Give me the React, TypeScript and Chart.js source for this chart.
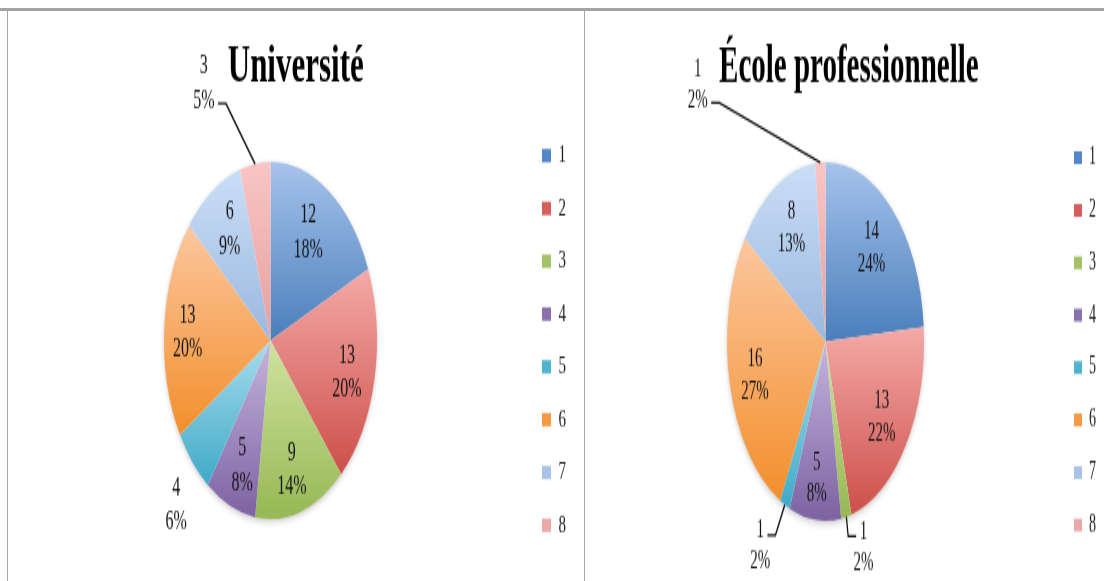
import React, { useEffect, useRef } from "react";
import { Chart, PieController, ArcElement, Legend, Title } from "chart.js";

Chart.register(PieController, ArcElement, Legend, Title);

// ---------- data ----------
const categories = ["1", "2", "3", "4", "5", "6", "7", "8"];
const universityValues = [12, 13, 9, 5, 4, 13, 6, 3];
const schoolValues = [14, 13, 1, 5, 1, 16, 8, 1];
const universityTitle = "Université";
const schoolTitle = "École professionnelle";

// ---------- style ----------
const topColors = ["#a6c3ec", "#f4aaa7", "#cfe39f", "#c6b5de", "#a9dced", "#fcc79f", "#cadef7", "#f8c6c5"];
const baseColors = ["#4a7ebb", "#cd4f4b", "#97b855", "#7d62a2", "#3faac7", "#f38f2c", "#9cb8df", "#e6a09f"];
const legendColors = ["#5487c8", "#d75e5a", "#a3c266", "#8a70ad", "#4fb5cf", "#f79a45", "#a9c3e6", "#eaa8a7"];
const FONT = '"Liberation Serif", "Times New Roman", serif';

type Leader = { line: number; side: "left" | "right"; dy: number };
type Placement = { da: number; r: number; leader?: Leader };

const universityPlacement: Placement[] = [
  { da: -2.9, r: 0.7 },
  { da: 1.5, r: 0.74 },
  { da: 1.1, r: 0.75 },
  { da: -1.4, r: 0.75 },
  { da: -3.3, r: 1.28 },
  { da: -0.85, r: 0.78 },
  { da: 1.6, r: 0.73 },
  { da: -15.2, r: 1.57, leader: { line: 1, side: "right", dy: 1.8 } },
];

const schoolPlacement: Placement[] = [
  { da: -0.9, r: 0.7 },
  { da: 1.5, r: 0.71 },
  { da: -6.35, r: 1.21, leader: { line: 0, side: "left", dy: 2.7 } },
  { da: 0.6, r: 0.77 },
  { da: 5.75, r: 1.32, leader: { line: 0, side: "right", dy: 2.7 } },
  { da: -1.2, r: 0.74 },
  { da: 1.9, r: 0.72 },
  { da: -39.2, r: 1.93, leader: { line: 1, side: "right", dy: 1 } },
];

type PanelCfg = {
  values: number[];
  title: string;
  placement: Placement[];
  left: number;
  top: number;
  width: number;
  height: number;
  stretch: number;
  radius: number;
  titleSize: number;
  titlePadTop: number;
  titlePadBottom: number;
  legendSize: number;
  legendPad: number;
  boxW: number;
  boxH: number;
  padL: number;
  padR: number;
  padB: number;
  labelSize: number;
  labelLine: number;
};

const universityPanel: PanelCfg = {
  values: universityValues,
  title: universityTitle,
  placement: universityPlacement,
  left: 9,
  top: 11,
  width: 575,
  height: 340,
  stretch: 1.676,
  radius: 106.5,
  titleSize: 31,
  titlePadTop: 15.7,
  titlePadBottom: 6.3,
  legendSize: 15,
  legendPad: 16.5,
  boxW: 9,
  boxH: 8,
  padL: 6.5,
  padR: 8,
  padB: 6,
  labelSize: 16,
  labelLine: 20.3,
};

const schoolPanel: PanelCfg = {
  values: schoolValues,
  title: schoolTitle,
  placement: schoolPlacement,
  left: 586,
  top: 11,
  width: 527,
  height: 313,
  stretch: 1.822,
  radius: 98.5,
  titleSize: 29,
  titlePadTop: 14.0,
  titlePadBottom: 5.0,
  legendSize: 14,
  legendPad: 14.8,
  boxW: 8,
  boxH: 7,
  padL: 5.8,
  padR: 7,
  padB: 4,
  labelSize: 15,
  labelLine: 17.3,
};

function percentages(values: number[]): number[] {
  const total = values.reduce((a, b) => a + b, 0);
  const raw = values.map((v) => (v * 100) / total);
  const floors = raw.map((r) => Math.floor(r));
  let rest = 100 - floors.reduce((a, b) => a + b, 0);
  const order = raw
    .map((r, i) => ({ i, rem: r - Math.floor(r) }))
    .sort((a, b) => b.rem - a.rem || a.i - b.i);
  for (const o of order) {
    if (rest <= 0) break;
    floors[o.i] += 1;
    rest -= 1;
  }
  return floors;
}

function makeGradientFn(cfg: PanelCfg) {
  return (ctx: any) => {
    const i = ctx.dataIndex ?? 0;
    const chart = ctx.chart;
    const area = chart.chartArea;
    if (!area || ctx.type !== "data") return baseColors[i % baseColors.length];
    const data = cfg.values;
    const total = data.reduce((a, b) => a + b, 0);
    let before = 0;
    for (let k = 0; k < i; k++) before += data[k];
    const a0 = -Math.PI / 2 + (2 * Math.PI * before) / total;
    const a1 = a0 + (2 * Math.PI * data[i]) / total;
    const cx = (area.left + area.right) / 2;
    const cy = (area.top + area.bottom) / 2;
    const R = cfg.radius;
    const ys = [cy, cy + R * Math.sin(a0), cy + R * Math.sin(a1)];
    const inRange = (a: number) => {
      for (let k = -2; k <= 2; k++) {
        const t = a + k * 2 * Math.PI;
        if (t >= a0 && t <= a1) return true;
      }
      return false;
    };
    if (inRange(Math.PI / 2)) ys.push(cy + R);
    if (inRange(-Math.PI / 2)) ys.push(cy - R);
    const y0 = Math.min(...ys);
    let y1 = Math.max(...ys);
    if (y1 - y0 < 2) y1 = y0 + 2;
    const g = chart.ctx.createLinearGradient(0, y0, 0, y1);
    g.addColorStop(0, topColors[i]);
    g.addColorStop(1, baseColors[i]);
    return g;
  };
}

const shadowPlugin = {
  id: "pieShadow",
  beforeDatasetsDraw(chart: any) {
    const arc = chart.getDatasetMeta(0).data[0];
    if (!arc) return;
    const { x, y, outerRadius } = arc.getProps(["x", "y", "outerRadius"], true);
    const c = chart.ctx;
    c.save();
    c.shadowColor = "rgba(0,0,0,0.25)";
    c.shadowBlur = 5;
    c.shadowOffsetY = 1.5;
    c.fillStyle = "#ffffff";
    c.beginPath();
    c.arc(x, y, outerRadius - 0.5, 0, Math.PI * 2);
    c.fill();
    c.restore();
  },
};

function makeLabelPlugin(cfg: PanelCfg) {
  const pcts = percentages(cfg.values);
  return {
    id: "sliceLabels",
    afterDatasetsDraw(chart: any) {
      const meta = chart.getDatasetMeta(0);
      const c = chart.ctx;
      c.save();
      c.font = `${cfg.labelSize}px ${FONT}`;
      c.fillStyle = "#141414";
      c.textAlign = "center";
      c.textBaseline = "middle";
      meta.data.forEach((arc: any, i: number) => {
        const p = cfg.placement[i];
        if (!p) return;
        const { x, y, startAngle, endAngle, outerRadius } = arc.getProps(
          ["x", "y", "startAngle", "endAngle", "outerRadius"],
          true
        );
        const mid = (startAngle + endAngle) / 2;
        const a = mid + (p.da * Math.PI) / 180;
        const lx = x + Math.cos(a) * outerRadius * p.r;
        const ly = y + Math.sin(a) * outerRadius * p.r;
        const lines = [String(cfg.values[i]), `${pcts[i]}%`];
        const h = cfg.labelLine;
        lines.forEach((t, k) => {
          c.fillText(t, lx, ly + (k - 0.5) * h);
        });
        if (p.leader) {
          const L = p.leader;
          const w = c.measureText(lines[L.line]).width;
          const yy = ly + (L.line - 0.5) * h + L.dy;
          const gap = 3.5;
          const stub = 8;
          const ex = L.side === "right" ? lx + w / 2 + gap : lx - w / 2 - gap;
          const ex2 = L.side === "right" ? ex + stub : ex - stub;
          const px = x + Math.cos(mid) * outerRadius;
          const py = y + Math.sin(mid) * outerRadius;
          c.save();
          c.strokeStyle = "#111";
          c.lineWidth = 1.3;
          c.beginPath();
          c.moveTo(ex, yy);
          c.lineTo(ex2, yy);
          c.lineTo(px, py);
          c.stroke();
          c.restore();
        }
      });
      c.restore();
    },
  };
}

function PiePanel({ cfg }: { cfg: PanelCfg }) {
  const ref = useRef<HTMLCanvasElement>(null);
  useEffect(() => {
    const canvas = ref.current;
    if (!canvas) return;
    const chart = new Chart(canvas, {
      type: "pie",
      data: {
        labels: categories,
        datasets: [
          {
            data: cfg.values,
            radius: cfg.radius,
            borderWidth: 0,
            backgroundColor: makeGradientFn(cfg),
          } as any,
        ],
      },
      options: {
        responsive: false,
        animation: false,
        devicePixelRatio: 1,
        events: [],
        layout: { padding: { left: cfg.padL, right: cfg.padR, top: 0, bottom: cfg.padB } },
        plugins: {
          title: {
            display: true,
            text: cfg.title,
            color: "#000",
            font: { family: FONT, size: cfg.titleSize, weight: "bold", lineHeight: 1.2 },
            padding: { top: cfg.titlePadTop, bottom: cfg.titlePadBottom },
          },
          legend: {
            display: true,
            position: "right",
            align: "center",
            fullSize: false,
            labels: {
              color: "#1a1a1a",
              font: { family: FONT, size: cfg.legendSize },
              boxWidth: cfg.boxW,
              boxHeight: cfg.boxH,
              padding: cfg.legendPad,
              generateLabels: () =>
                categories.map((t, i) => ({
                  text: t,
                  fillStyle: legendColors[i],
                  strokeStyle: legendColors[i],
                  lineWidth: 0,
                  hidden: false,
                  index: i,
                  fontColor: "#1a1a1a",
                })),
            },
          },
        },
      } as any,
      plugins: [shadowPlugin, makeLabelPlugin(cfg)],
    });
    return () => chart.destroy();
  }, [cfg]);
  return (
    <canvas
      ref={ref}
      width={cfg.width}
      height={cfg.height}
      style={{
        position: "absolute",
        left: cfg.left,
        top: cfg.top,
        width: `${cfg.width}px`,
        height: `${cfg.height * cfg.stretch}px`,
      }}
    />
  );
}

export default function App() {
  return (
    <div
      style={{
        position: "absolute",
        left: 0,
        top: 0,
        width: 1104,
        height: 581,
        overflow: "hidden",
        background: "#ffffff",
      }}
    >
      <div style={{ position: "absolute", left: 0, top: 8, width: 1104, height: 3, background: "#a3a3a3" }} />
      <div style={{ position: "absolute", left: 7, top: 8, width: 1, height: 573, background: "#a8a8a8" }} />
      <div style={{ position: "absolute", left: 584, top: 8, width: 1, height: 573, background: "#a8a8a8" }} />
      <PiePanel cfg={universityPanel} />
      <PiePanel cfg={schoolPanel} />
    </div>
  );
}
